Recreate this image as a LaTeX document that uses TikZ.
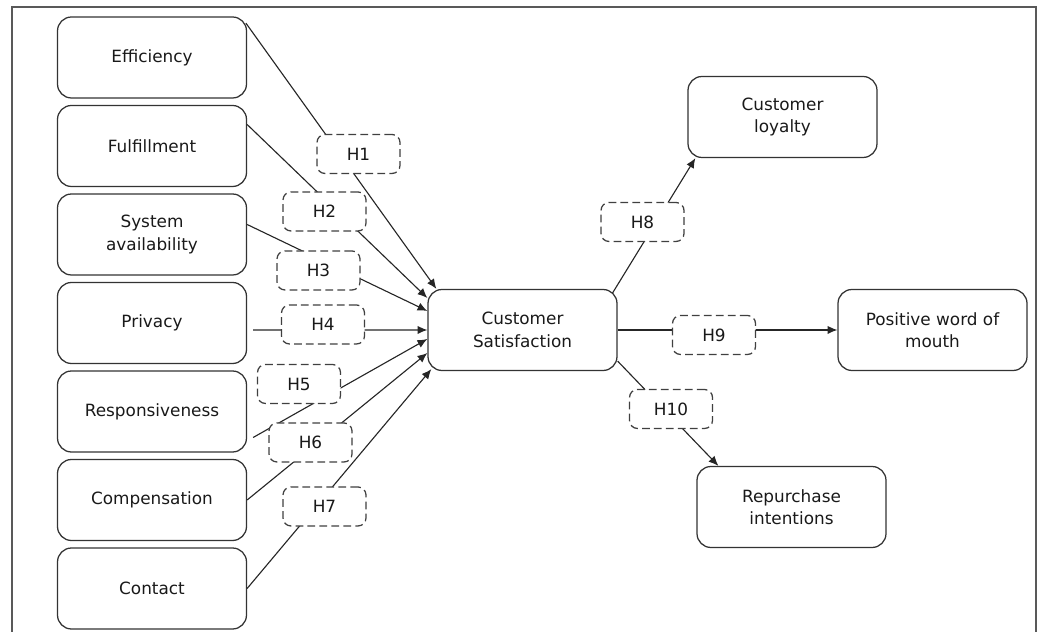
\documentclass[tikz,border=0pt]{standalone}
\usepackage{fontspec}
\setmainfont{DejaVu Sans}
\usetikzlibrary{arrows.meta}

\begin{document}
\begin{tikzpicture}[
		factor/.style={draw=black!80, line width=0.9pt, rounded corners=0.35cm, minimum width=4.725cm, minimum height=2.025cm, align=center, text=black!90, font=\fontsize{12}{16}\selectfont},
		hyp/.style={draw=black!75, line width=0.9pt, dash pattern=on 5.5pt off 3pt, rounded corners=0.2cm, fill=white, minimum width=2.075cm, minimum height=0.975cm, text=black!90, font=\fontsize{12}{16}\selectfont},
		link/.style={black!85, line width=0.8pt, -{Latex[length=7pt,width=6pt]}}
	]
		\useasboundingbox (0,0) rectangle (26.125,15.8);
		\draw[black!65, line width=0.9pt] (0.3,-1) -- (0.3,15.625) -- (25.9,15.625) -- (25.9,-1);
		% dimensions
		\foreach \name/\txt [count=\i] in {eff/Efficiency, ful/Fulfillment, sys/{System\\availability}, priv/Privacy, resp/Responsiveness, comp/Compensation, cont/Contact}
			\node[factor] (\name) at (3.8, {14.3625-2.2125*(\i-1)}) {\txt};
		% outcomes
		\node[factor] (cs) at (13.0625,7.55) {Customer\\Satisfaction};
		\node[factor] (loy) at (19.5625,12.875) {Customer\\loyalty};
		\node[factor] (wom) at (23.3125,7.55) {Positive word of\\mouth};
		\node[factor] (rep) at (19.7875,3.125) {Repurchase\\intentions};
		% paths
		\draw[link] ([shift={(-0.03,-0.17)}]eff.north east) -- ([xshift=0.225cm]cs.north west);
		\draw[link] ([yshift=0.5375cm]ful.east) -- ([yshift=0.8cm]cs.west);
		\draw[link] ([yshift=0.25cm]sys.east) -- ([yshift=0.475cm]cs.west);
		\draw[link] ([shift={(0.15,-0.175)}]priv.east) -- (cs.west);
		\draw[link] ([shift={(0.15,-0.65)}]resp.east) -- ([yshift=-0.225cm]cs.west);
		\draw[link] (comp.east) -- ([yshift=-0.575cm]cs.west);
		\draw[link] (cont.east) -- ([shift={(0.1,0.05)}]cs.south west);
		\draw[link] ([shift={(-0.125,-0.1)}]cs.north east) -- ([xshift=0.2cm]loy.south west);
		\draw[link] (cs.east) -- (wom.west);
		\draw[link] ([yshift=0.25cm]cs.south east) -- ([xshift=0.55cm]rep.north west);
		% hypotheses
		\foreach \h/\x/\y in {1/8.9625/11.95, 2/8.1125/10.5125, 3/7.9625/9.0375, 4/8.075/7.6875, 5/7.475/6.2, 6/7.7625/4.7375, 7/8.1125/3.1375, 8/16.0625/10.25, 9/17.85/7.425, 10/16.775/5.575}
			\node[hyp] (h\h) at (\x,\y) {H\h};
	\end{tikzpicture}
\end{document}
